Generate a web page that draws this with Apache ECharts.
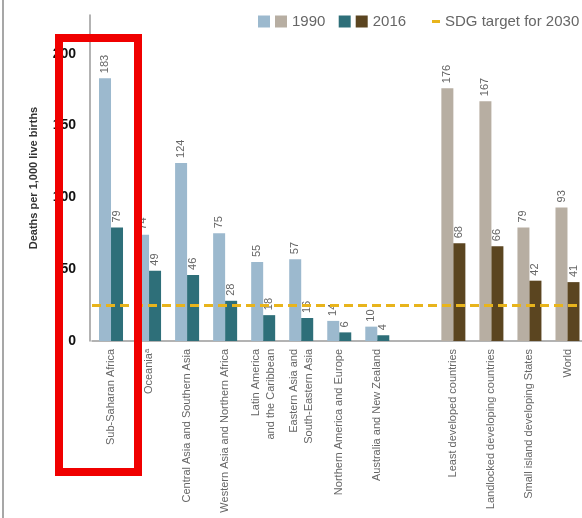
<!DOCTYPE html>
<html>
<head>
<meta charset="utf-8">
<script src="https://cdn.jsdelivr.net/npm/echarts@6/dist/echarts.min.js"></script>
<style>
  html, body { margin: 0; padding: 0; background: #fff; }
  #main { width: 582px; height: 518px; }
</style>
</head>
<body>
<div id="main"></div>
<script>
// under-5 mortality, deaths per 1,000 live births
const regionNames = [
  'Sub-Saharan Africa',
  'Oceania\u1d43',
  'Central Asia and Southern Asia',
  'Western Asia and Northern Africa',
  'Latin America\nand the Caribbean',
  'Eastern Asia and\nSouth-Eastern Asia',
  'Northern America and Europe',
  'Australia and New Zealand'
]
const groupNames = [
  'Least developed countries',
  'Landlocked developing countries',
  'Small island developing States',
  'World'
]
const region1990 = [183, 74, 124, 75, 55, 57, 14, 10]
const region2016 = [79, 49, 46, 28, 18, 16, 6, 4]
const group1990 = [176, 167, 79, 93]
const group2016 = [68, 66, 42, 41]
const sdgTarget = 25
const yTicks = [0, 50, 100, 150, 200]

const plain = '"Liberation Sans", Arial, sans-serif'

// one empty slot between regions and country groups
const categories = regionNames.concat([''], groupNames)
const pad = (n) => new Array(n).fill('-')
const regionPad = pad(categories.length - regionNames.length)
const groupPad = pad(categories.length - groupNames.length)

const valueLabel = {
  show: true,
  position: 'top',
  rotate: 90,
  align: 'left',
  verticalAlign: 'middle',
  distance: 5,
  fontFamily: plain,
  fontSize: 11,
  color: '#666'
}

function barSeries(name, stack, data, color) {
  return {
    name: name,
    type: 'bar',
    stack: stack,
    barWidth: 12,
    barGap: '0%',
    data: data,
    itemStyle: { color: color },
    label: valueLabel,
    silent: true
  }
}

const legendBase = {
  top: 14,
  padding: 0,
  itemWidth: 12,
  itemHeight: 12,
  itemGap: 5,
  selectedMode: false,
  textStyle: { fontFamily: plain, fontSize: 15, color: '#666' }
}

const chart = echarts.init(document.getElementById('main'), null, { renderer: 'canvas' })

chart.setOption({
  animation: false,
  backgroundColor: '#fff',
  legend: [
    Object.assign({}, legendBase, {
      left: 258,
      data: [
        { name: 'r1990', icon: 'rect' },
        { name: '1990', icon: 'rect' },
        { name: 'r2016', icon: 'rect' },
        { name: '2016', icon: 'rect' }
      ],
      formatter: function (name) {
        if (name.charAt(0) === 'r') return ''
        return name === '1990' ? name + '\u00a0\u00a0' : name
      }
    }),
    Object.assign({}, legendBase, {
      left: 432,
      itemWidth: 8,
      itemHeight: 3,
      data: [{ name: 'SDG target for 2030', icon: 'rect', itemStyle: { color: '#e8b41c' } }]
    })
  ],
  grid: { left: 92, right: -4.5, top: 15, bottom: 177, outerBoundsMode: 'none', containLabel: false },
  xAxis: {
    type: 'category',
    data: categories,
    axisLine: { lineStyle: { color: '#9a9a9a', width: 1.5 } },
    axisTick: { show: false },
    axisLabel: {
      interval: 0,
      rotate: 90,
      margin: 8,
      fontFamily: plain,
      fontSize: 11,
      lineHeight: 15,
      color: '#666'
    }
  },
  yAxis: {
    type: 'value',
    min: yTicks[0],
    max: 227,
    interval: 50,
    offset: 2,
    name: 'Deaths per 1,000 live births',
    nameLocation: 'middle',
    nameRotate: 90,
    nameGap: 51,
    nameTextStyle: { fontFamily: plain, fontSize: 11, fontWeight: 'bold', color: '#333' },
    splitLine: { show: false },
    axisLine: { show: true, lineStyle: { color: '#9a9a9a', width: 1.5 } },
    axisTick: { show: false },
    axisLabel: {
      margin: 14,
      showMaxLabel: false,
      fontFamily: plain,
      fontSize: 14,
      fontWeight: 'bold',
      color: '#111',
      formatter: function (v) { return yTicks.indexOf(v) >= 0 ? String(v) : '' }
    }
  },
  series: [
    barSeries('r1990', 'y1990', region1990.concat(regionPad), '#9cb9ce'),
    barSeries('r2016', 'y2016', region2016.concat(regionPad), '#2e6f79'),
    barSeries('1990', 'y1990', groupPad.concat(group1990), '#b7aea2'),
    barSeries('2016', 'y2016', groupPad.concat(group2016), '#5b4520'),
    {
      name: 'SDG target for 2030',
      type: 'line',
      data: [],
      itemStyle: { color: '#e8b41c' },
      lineStyle: { color: '#e8b41c' },
      markLine: {
        silent: true,
        symbol: 'none',
        label: { show: false },
        lineStyle: { color: '#e8b41c', type: [9, 5], width: 3 },
        data: [{ yAxis: sdgTarget }]
      }
    }
  ],
  graphic: [
    {
      type: 'line',
      shape: { x1: 3, y1: 0, x2: 3, y2: 518 },
      style: { stroke: '#8a8a8a', lineWidth: 1.5 }
    },
    {
      // red highlight box round Sub-Saharan Africa
      type: 'rect',
      z: 100,
      shape: { x: 59, y: 38, width: 79, height: 434 },
      style: { fill: 'none', stroke: '#f00000', lineWidth: 8 }
    }
  ]
})
</script>
</body>
</html>
